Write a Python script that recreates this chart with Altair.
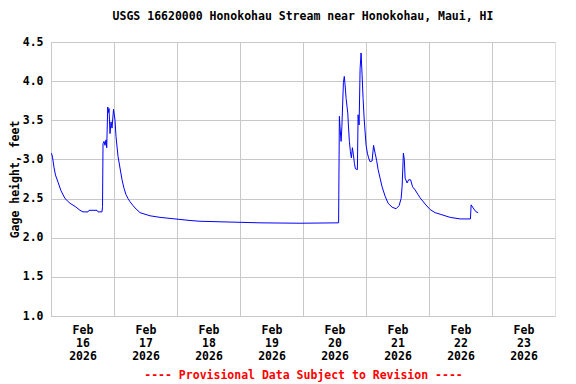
import altair as alt
import pandas as pd

# hours since 2026-02-16 00:00 and gage height (feet)
hours = [0.19, 0.57, 1.14, 1.71, 2.67, 3.81, 5.34, 7.24, 9.15, 11.05, 12.19, 14.10, 14.48,
         17.53, 17.91, 19.43, 19.63, 19.82, 20.20, 20.58, 20.96, 21.23, 21.61, 21.91, 22.10,
         22.48, 22.86, 23.25, 23.82, 24.39, 24.77, 25.53, 26.29, 27.06, 27.82, 28.58, 29.34,
         30.10, 31.25, 32.01, 33.92, 35.82, 37.73, 41.54, 47.25, 52.97, 56.78, 68.21, 79.64,
         94.89, 109.56, 109.86, 110.13, 110.51, 110.82, 111.39, 111.73, 112.03, 112.42,
         113.06, 113.29, 113.67, 114.05, 114.44, 114.82, 115.20, 115.58, 115.96, 116.72,
         116.99, 117.37, 117.75, 118.13, 118.51, 118.89, 119.28, 119.66, 120.04, 120.53,
         120.99, 121.56, 122.32, 122.89, 123.47, 124.04, 124.61, 125.37, 126.13, 127.28,
         128.42, 129.94, 131.47, 132.61, 133.37, 133.75, 134.25, 134.59, 134.90, 135.66,
         136.23, 136.99, 137.75, 138.71, 139.85, 140.61, 142.52, 144.43, 146.33, 148.24,
         152.05, 155.86, 159.78, 160.05, 160.81, 161.95, 162.71]
gage = [3.08, 3.03, 2.90, 2.80, 2.71, 2.60, 2.50, 2.44, 2.40, 2.35, 2.33, 2.33, 2.35,
        2.35, 2.33, 2.33, 2.40, 3.20, 3.23, 3.18, 3.25, 3.15, 3.67, 3.60, 3.65,
        3.33, 3.48, 3.40, 3.64, 3.50, 3.29, 3.04, 2.89, 2.74, 2.63, 2.55, 2.50,
        2.46, 2.41, 2.38, 2.32, 2.30, 2.28, 2.26, 2.24, 2.22, 2.21, 2.20, 2.19,
        2.185, 2.19, 3.55, 3.40, 3.23, 3.42, 3.98, 4.06, 3.95, 3.78,
        3.59, 3.44, 3.23, 3.10, 3.02, 3.15, 3.06, 2.95, 2.88, 2.87,
        3.57, 3.44, 4.16, 4.36, 4.08, 3.78, 3.53, 3.35, 3.18, 3.08,
        3.02, 2.97, 2.98, 3.18, 3.08, 2.99, 2.87, 2.76, 2.65, 2.53,
        2.44, 2.39, 2.37, 2.41, 2.50, 2.65, 3.08, 3.00, 2.76, 2.70,
        2.74, 2.74, 2.65, 2.61, 2.55, 2.51, 2.43, 2.36, 2.32, 2.30,
        2.26, 2.24, 2.24, 2.42, 2.38, 2.33, 2.32]

day_ticks = ["2026-02-16", "2026-02-17", "2026-02-18", "2026-02-19",
             "2026-02-20", "2026-02-21", "2026-02-22", "2026-02-23"]
y_ticks = [1.0, 1.5, 2.0, 2.5, 3.0, 3.5, 4.0, 4.5]

title_text = "USGS 16620000 Honokohau Stream near Honokohau, Maui, HI"
note_text = "---- Provisional Data Subject to Revision ----"

base = pd.Timestamp("2026-02-16T00:00:00")
times = [(base + pd.Timedelta(hours=h)).strftime("%Y-%m-%dT%H:%M:%SZ") for h in hours]
df = pd.DataFrame({"time": times, "gage": gage})

tick_ms = [int(pd.Timestamp(d + "T00:00:00Z").value // 10**6) for d in day_ticks]
domain_ms = [tick_ms[0], tick_ms[-1] + 86400000]

font = "DejaVu Sans Mono"

chart = alt.Chart(df).mark_line(color="#0000FF", strokeWidth=1, clip=True).encode(
    x=alt.X(
        "time:T",
        scale=alt.Scale(type="utc", domain=domain_ms),
        axis=alt.Axis(
            values=tick_ms,
            labelExpr="[utcFormat(datum.value, '%b'), utcFormat(datum.value, '%d'), utcFormat(datum.value, '%Y')]",
            labelOffset=31.5,
            labelOverlap=False,
            labelBound=False,
            labelFlush=False,
            ticks=False,
            domain=False,
            labelPadding=8,
            labelLineHeight=13,
            labelFont=font,
            labelFontSize=11.5,
            labelFontWeight="bold",
            labelColor="black",
            gridColor="#c8c8c8",
            gridOpacity=1,
            title=note_text,
            titleColor="red",
            titleFont=font,
            titleFontSize=11.5,
            titleFontWeight="bold",
            titlePadding=8,
        ),
    ),
    y=alt.Y(
        "gage:Q",
        scale=alt.Scale(domain=[1.0, 4.5], nice=False, zero=False),
        axis=alt.Axis(
            values=y_ticks,
            format=".1f",
            ticks=False,
            domain=False,
            labelPadding=8,
            labelFont=font,
            labelFontSize=11.5,
            labelFontWeight="bold",
            labelColor="black",
            labelOverlap=False,
            labelFlush=False,
            gridColor="#c8c8c8",
            gridOpacity=1,
            title="Gage height, feet",
            titleFont=font,
            titleFontSize=11.5,
            titleFontWeight="bold",
            titleColor="black",
            titlePadding=2,
        ),
    ),
).properties(
    width=504,
    height=274,
    title=alt.TitleParams(
        text=title_text, font=font, fontSize=11.5, fontWeight="bold",
        color="black", anchor="middle", offset=14,
    ),
    autosize="none",
    padding={"left": 43, "top": 34, "right": 13, "bottom": 70},
).configure_view(
    stroke="black", strokeWidth=1
).configure(background="white")

chart.save("out.html", embed_options={"renderer": "svg", "actions": False})
